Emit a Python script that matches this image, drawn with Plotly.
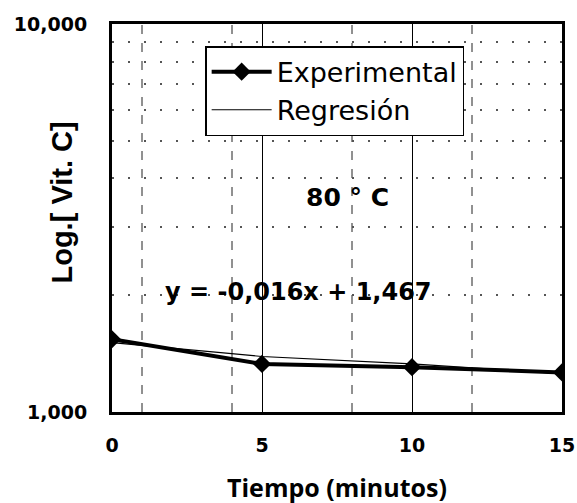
import plotly.graph_objects as go

tiempo = [0, 5, 10, 15]
experimental = [1.54, 1.33, 1.305, 1.265]
regresion = [1.51, 1.39, 1.33, 1.255]
x_ticks = [0, 5, 10, 15]
y_tickvals = [1, 10]
y_ticktext = ["1,000", "10,000"]
extra_vlines = [1, 4, 8, 12]

fig = go.Figure()
fig.add_trace(go.Scatter(
    x=tiempo, y=experimental, mode="lines+markers", name="Experimental",
    legendgroup="a",
    line=dict(color="black", width=4),
    marker=dict(symbol="diamond", size=14, color="black"),
))
fig.add_trace(go.Scatter(
    x=tiempo, y=regresion, mode="lines", name="Regresión",
    legendgroup="b",
    line=dict(color="black", width=1.2),
))

for xv in extra_vlines:
    fig.add_shape(type="line", xref="x", yref="paper", x0=xv, x1=xv, y0=0, y1=1,
                  line=dict(color="#222", width=1, dash="dash"), layer="below")

fig.update_layout(
    width=577, height=503,
    margin=dict(l=112, r=15, t=24, b=91, autoexpand=False),
    paper_bgcolor="white", plot_bgcolor="white",
    showlegend=True,
    legend=dict(x=0.207, y=0.943, xanchor="left", yanchor="top",
                bgcolor="white", bordercolor="black", borderwidth=1.5,
                font=dict(family="DejaVu Sans", size=27, color="black"),
                itemwidth=60, tracegroupgap=0),
    font=dict(family="DejaVu Sans", color="black"),
)
fig.update_xaxes(
    range=[0, 15], tickvals=x_ticks, ticks="", showline=True, linecolor="black",
    linewidth=3, mirror=True, showgrid=True, gridcolor="black", gridwidth=1,
    zeroline=False, ticklabelstandoff=14, automargin=False,
    tickfont=dict(family="DejaVu Sans", size=19, color="black", weight="bold"),
)
fig.update_yaxes(
    type="log", range=[0, 1], tickvals=y_tickvals, ticktext=y_ticktext, ticks="",
    showline=True, linecolor="black", linewidth=3, mirror=True,
    showgrid=False, ticklabelstandoff=18, automargin=False,
    minor=dict(showgrid=True, gridcolor="#555", griddash="2px,14px", gridwidth=1.5,
               tickvals=[2, 3, 4, 5, 6, 7, 8, 9]),
    tickfont=dict(family="DejaVu Sans", size=19, color="black", weight="bold"),
)
fig.add_annotation(x=-0.111, y=0.54, xref="paper", yref="paper", text="<b>Log.[ Vit. C]</b>",
                   textangle=-90, showarrow=False, xanchor="center", yanchor="middle",
                   font=dict(family="Liberation Sans, Arial", size=29, color="black"))
fig.add_annotation(x=0.5, y=-0.193, xref="paper", yref="paper", text="<b>Tiempo (minutos)</b>",
                   showarrow=False, xanchor="center", yanchor="middle",
                   font=dict(family="Open Sans", size=25, color="black"))
fig.add_annotation(x=7.85, y=0.552, xref="x", yref="paper", text="<b>80 ° C</b>",
                   showarrow=False, xanchor="center", yanchor="middle",
                   font=dict(family="DejaVu Sans", size=25, color="black"))
fig.add_annotation(x=6.2, y=0.31, xref="x", yref="paper", text="<b>y = -0,016x + 1,467</b>",
                   showarrow=False, xanchor="center", yanchor="middle",
                   font=dict(family="DejaVu Sans", size=24, color="black"))

fig.write_html("out.html")
